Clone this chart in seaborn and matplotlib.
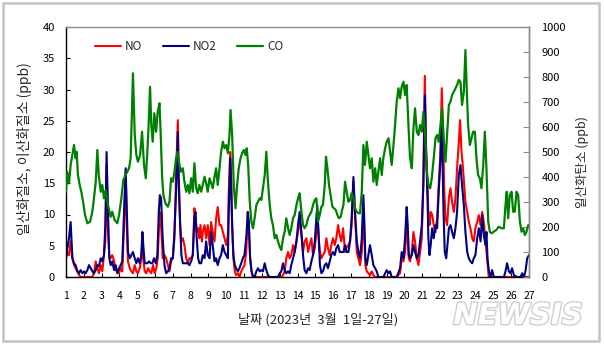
import matplotlib
matplotlib.use("Agg")
import matplotlib.pyplot as plt
import matplotlib.patheffects as pe
from matplotlib.patches import Rectangle
import seaborn as sns
import pandas as pd

sns.set_style("white")
plt.rcParams["font.family"] = ["Noto Sans CJK KR", "DejaVu Sans"]
plt.rcParams["axes.unicode_minus"] = False

# ---------------- data ----------------
series_labels = ["NO", "NO2", "CO"]
day_ticks = list(range(1, 28))
left_ticks = list(range(0, 41, 5))
right_ticks = list(range(0, 1001, 100))
x_label = "날짜 (2023년  3월  1일-27일)"
left_label = "일산화질소, 이산화질소 (ppb)"
right_label = "일산화탄소 (ppb)"

# NO (ppb): (day, value)
no_pts = [
    (1.00, 3.0), (1.07, 4.0), (1.17, 3.5), (1.26, 5.7), (1.36, 3.0), (1.45, 1.9), (1.54, 1.4),
    (1.64, 0.9), (1.73, 0.3), (1.82, 0.0), (2.48, 0.0), (2.57, 0.6), (2.67, 2.5), (2.76, 1.4),
    (2.85, 0.6), (2.95, 1.9), (3.04, 0.9), (3.13, 3.5), (3.21, 5.7), (3.28, 17.9), (3.36, 7.2),
    (3.43, 3.5), (3.51, 3.0), (3.60, 3.5), (3.70, 2.5), (3.79, 1.1), (3.88, 0.9), (3.98, 0.6),
    (4.07, 1.4), (4.16, 0.9), (4.26, 8.3), (4.35, 16.8), (4.41, 8.3), (4.48, 2.5), (4.58, 1.4),
    (4.67, 0.9), (4.76, 0.6), (4.86, 1.9), (4.95, 0.9), (5.04, 0.6), (5.14, 1.4), (5.23, 3.0),
    (5.29, 5.7), (5.34, 3.0), (5.42, 0.9), (5.51, 0.6), (5.61, 1.4), (5.70, 0.9), (5.79, 0.6),
    (5.89, 1.9), (5.98, 0.6), (6.07, 1.4), (6.15, 3.0), (6.21, 7.2), (6.27, 10.4), (6.34, 8.3),
    (6.43, 3.0), (6.53, 3.5), (6.62, 3.0), (6.72, 1.9), (6.81, 0.9), (6.90, 2.5), (7.00, 3.0),
    (7.09, 6.2), (7.18, 16.3), (7.28, 25.1), (7.33, 16.8), (7.41, 8.3), (7.48, 5.7), (7.56, 6.2),
    (7.65, 5.1), (7.75, 3.0), (7.84, 2.2), (7.93, 3.0), (8.03, 3.0), (8.12, 3.5), (8.21, 11.0),
    (8.27, 9.9), (8.34, 7.2), (8.42, 7.8), (8.49, 6.2), (8.55, 8.3), (8.63, 5.7), (8.68, 7.2),
    (8.78, 8.3), (8.87, 6.2), (8.96, 8.3), (9.06, 5.1), (9.15, 8.8), (9.24, 7.2), (9.34, 5.7),
    (9.43, 9.4), (9.52, 11.2), (9.62, 8.3), (9.71, 8.3), (9.81, 7.2), (9.90, 6.2), (10.00, 5.1),
    (10.09, 6.7), (10.14, 13.6), (10.22, 20.0), (10.27, 16.3), (10.33, 8.3), (10.40, 3.0),
    (10.48, 0.9), (10.55, 0.3), (10.65, 0.6), (10.74, 0.0), (10.84, 0.9), (10.93, 1.4),
    (11.02, 1.9), (11.12, 4.0), (11.21, 10.4), (11.27, 7.2), (11.34, 3.0), (11.42, 0.9),
    (11.50, 0.0), (13.09, 0.0), (13.19, 0.3), (13.28, 0.9), (13.37, 3.0), (13.47, 4.0),
    (13.56, 3.0), (13.65, 3.5), (13.75, 5.1), (13.84, 4.0), (13.94, 5.7), (14.03, 7.2),
    (14.12, 9.4), (14.22, 6.7), (14.31, 4.0), (14.40, 5.7), (14.50, 6.2), (14.59, 4.0),
    (14.68, 5.1), (14.78, 6.2), (14.87, 3.5), (14.97, 4.6), (15.06, 7.2), (15.11, 10.4),
    (15.19, 6.2), (15.26, 4.0), (15.34, 3.0), (15.43, 3.5), (15.53, 4.0), (15.62, 6.2),
    (15.71, 4.6), (15.81, 3.5), (15.90, 5.1), (15.99, 6.2), (16.09, 5.1), (16.18, 6.2),
    (16.28, 8.3), (16.37, 6.7), (16.46, 5.7), (16.56, 7.8), (16.67, 4.0), (16.76, 4.8),
    (16.86, 5.1), (16.95, 5.7), (17.04, 8.3), (17.14, 15.2), (17.23, 9.9), (17.33, 4.0),
    (17.42, 3.0), (17.51, 1.9), (17.61, 4.0), (17.70, 10.4), (17.76, 6.2), (17.81, 1.9),
    (17.89, 0.9), (17.98, 0.6), (18.07, 0.3), (18.17, 0.9), (18.26, 0.3), (18.36, 0.0),
    (19.57, 0.0), (19.76, 0.6), (19.85, 3.0), (19.95, 2.5), (20.04, 4.0), (20.13, 8.3),
    (20.19, 6.2), (20.25, 3.0), (20.32, 2.5), (20.42, 4.0), (20.51, 7.2), (20.60, 5.7),
    (20.70, 3.0), (20.79, 1.9), (20.88, 4.0), (20.98, 6.2), (21.07, 16.3), (21.15, 32.2),
    (21.22, 20.8), (21.30, 14.9), (21.35, 9.9), (21.41, 8.3), (21.48, 10.4), (21.56, 10.0),
    (21.65, 8.3), (21.75, 7.2), (21.84, 9.4), (21.93, 14.7), (22.03, 20.0), (22.10, 30.2),
    (22.18, 22.4), (22.23, 14.7), (22.31, 9.4), (22.40, 8.3), (22.50, 12.6), (22.59, 14.2),
    (22.68, 12.0), (22.78, 10.4), (22.87, 12.6), (22.96, 17.4), (23.06, 21.6), (23.13, 25.1),
    (23.21, 20.0), (23.28, 17.9), (23.36, 14.7), (23.43, 12.0), (23.53, 10.4), (23.62, 8.8),
    (23.71, 7.8), (23.81, 6.2), (23.90, 5.7), (23.99, 7.8), (24.09, 8.8), (24.18, 9.9),
    (24.28, 8.3), (24.37, 10.4), (24.46, 8.8), (24.56, 5.7), (24.65, 3.0), (24.74, 0.0),
    (27.00, 0.0),
]

# NO2 (ppb): (day, value)
no2_pts = [
    (1.00, 3.0), (1.07, 4.6), (1.17, 6.2), (1.26, 8.8), (1.36, 3.0), (1.45, 2.2), (1.54, 1.9),
    (1.64, 0.9), (1.73, 0.6), (1.82, 1.1), (1.92, 0.6), (2.01, 0.9), (2.10, 0.6), (2.20, 1.1),
    (2.29, 1.9), (2.39, 1.4), (2.48, 0.9), (2.57, 0.6), (2.67, 1.1), (2.76, 1.9), (2.85, 1.7),
    (2.95, 3.0), (3.04, 2.5), (3.13, 3.5), (3.21, 8.3), (3.28, 20.0), (3.36, 10.4), (3.43, 3.0),
    (3.51, 1.9), (3.60, 2.5), (3.70, 1.1), (3.79, 1.9), (3.88, 0.6), (3.98, 1.4), (4.07, 1.9),
    (4.16, 2.5), (4.26, 10.4), (4.35, 17.4), (4.41, 11.0), (4.48, 4.0), (4.58, 3.0), (4.67, 3.5),
    (4.76, 4.0), (4.86, 3.0), (4.95, 2.2), (5.04, 3.0), (5.14, 2.2), (5.23, 3.5), (5.29, 7.2),
    (5.34, 5.1), (5.42, 2.2), (5.57, 2.2), (5.66, 2.5), (5.76, 2.2), (5.85, 2.2), (5.94, 3.0),
    (6.04, 2.2), (6.13, 3.5), (6.21, 10.4), (6.27, 13.1), (6.34, 12.6), (6.43, 6.2), (6.53, 1.9),
    (6.62, 0.6), (6.72, 0.9), (6.81, 1.4), (6.90, 3.0), (7.00, 3.0), (7.09, 7.2), (7.18, 13.6),
    (7.28, 23.2), (7.33, 14.7), (7.41, 8.3), (7.48, 3.5), (7.56, 2.2), (7.65, 2.2), (7.75, 2.2),
    (7.84, 2.2), (7.93, 1.9), (8.03, 2.5), (8.12, 3.5), (8.21, 9.4), (8.27, 10.4), (8.34, 6.2),
    (8.42, 3.0), (8.49, 2.2), (8.59, 2.2), (8.68, 3.5), (8.78, 3.0), (8.87, 5.7), (8.96, 3.5),
    (9.06, 3.0), (9.15, 7.2), (9.24, 5.1), (9.34, 2.5), (9.43, 3.0), (9.52, 1.9), (9.62, 3.0),
    (9.71, 3.5), (9.81, 5.1), (9.90, 4.0), (10.00, 3.5), (10.09, 3.0), (10.14, 10.4),
    (10.22, 19.0), (10.27, 15.2), (10.33, 8.3), (10.40, 3.5), (10.48, 1.9), (10.55, 1.4),
    (10.65, 0.9), (10.74, 1.4), (10.84, 2.2), (10.93, 3.0), (11.02, 3.5), (11.12, 6.2),
    (11.21, 10.4), (11.27, 8.8), (11.34, 3.0), (11.42, 0.9), (11.50, 0.0), (11.59, 0.0),
    (11.69, 0.9), (11.78, 1.4), (11.88, 0.9), (11.97, 1.1), (12.06, 0.9), (12.16, 2.2),
    (12.25, 1.1), (12.34, 0.3), (12.44, 0.0), (12.91, 0.0), (13.00, 0.6), (13.09, 0.9),
    (13.19, 2.2), (13.28, 1.1), (13.37, 0.6), (13.47, 0.9), (13.56, 0.6), (13.65, 1.9),
    (13.75, 3.0), (13.84, 4.0), (13.94, 5.7), (14.03, 8.3), (14.12, 10.4), (14.22, 7.2),
    (14.31, 3.5), (14.40, 1.1), (14.50, 0.6), (14.59, 1.4), (14.68, 1.1), (14.78, 2.5),
    (14.87, 3.5), (14.97, 5.7), (15.06, 9.4), (15.11, 11.5), (15.19, 6.2), (15.26, 1.9),
    (15.34, 0.6), (15.43, 0.9), (15.53, 1.9), (15.62, 2.2), (15.71, 1.4), (15.81, 2.5),
    (15.90, 3.5), (15.99, 4.0), (16.09, 3.5), (16.18, 4.6), (16.28, 5.1), (16.37, 4.0),
    (16.48, 4.0), (16.58, 4.0), (16.67, 5.1), (16.76, 4.0), (16.86, 4.0), (16.95, 5.7),
    (17.04, 9.4), (17.14, 16.0), (17.23, 10.4), (17.33, 5.7), (17.42, 4.0), (17.51, 3.0),
    (17.61, 6.2), (17.70, 13.1), (17.76, 8.3), (17.81, 3.0), (17.89, 1.9), (17.98, 3.5),
    (18.07, 5.1), (18.17, 3.5), (18.26, 1.9), (18.36, 1.4), (18.45, 0.9), (18.54, 0.0),
    (18.82, 0.0), (19.01, 1.1), (19.11, 0.6), (19.20, 0.9), (19.29, 0.0), (19.57, 0.0),
    (19.76, 1.4), (19.85, 4.0), (19.95, 3.0), (20.04, 6.2), (20.13, 11.2), (20.19, 8.3),
    (20.25, 3.5), (20.32, 3.0), (20.42, 3.5), (20.51, 5.1), (20.60, 4.0), (20.70, 3.0),
    (20.79, 3.5), (20.88, 5.7), (20.98, 8.3), (21.07, 14.7), (21.15, 29.1), (21.22, 20.0),
    (21.30, 12.6), (21.35, 6.2), (21.41, 3.5), (21.48, 5.1), (21.56, 7.8), (21.65, 6.2),
    (21.75, 8.3), (21.84, 7.8), (21.93, 13.6), (22.03, 19.0), (22.08, 24.8), (22.14, 19.0),
    (22.20, 10.4), (22.27, 4.0), (22.35, 3.0), (22.42, 5.1), (22.50, 7.8), (22.59, 8.3),
    (22.68, 7.2), (22.78, 6.2), (22.87, 7.8), (22.96, 10.4), (23.06, 16.3), (23.15, 17.9),
    (23.24, 14.7), (23.34, 11.5), (23.43, 7.2), (23.53, 4.0), (23.62, 3.0), (23.71, 2.5),
    (23.81, 2.2), (23.90, 3.0), (23.99, 3.5), (24.09, 6.2), (24.18, 7.8), (24.28, 5.7),
    (24.37, 9.9), (24.46, 6.7), (24.56, 5.1), (24.61, 7.2), (24.67, 3.0), (24.74, 1.1),
    (24.84, 0.0), (24.93, 1.1), (25.02, 0.0), (25.59, 0.0), (25.68, 0.9), (25.77, 2.2),
    (25.87, 0.9), (25.96, 0.6), (26.05, 1.4), (26.15, 0.3), (26.33, 0.0), (26.52, 0.0),
    (26.62, 0.6), (26.71, 0.0), (26.80, 0.9), (26.90, 3.0), (27.00, 3.5),
]

# CO (ppb): (day, value)
co_pts = [
    (1.00, 341), (1.07, 421), (1.17, 375), (1.26, 448), (1.45, 528), (1.54, 475), (1.60, 501),
    (1.67, 408), (1.77, 368), (1.86, 341), (1.96, 301), (2.07, 248), (2.20, 215), (2.35, 221),
    (2.48, 261), (2.57, 315), (2.67, 381), (2.76, 508), (2.84, 408), (2.95, 341), (3.04, 368),
    (3.13, 315), (3.23, 348), (3.32, 301), (3.42, 268), (3.51, 241), (3.60, 261), (3.73, 228),
    (3.88, 215), (3.98, 248), (4.11, 315), (4.22, 388), (4.35, 408), (4.54, 435), (4.63, 475),
    (4.76, 815), (4.86, 568), (4.95, 488), (5.04, 461), (5.16, 488), (5.27, 581), (5.38, 448),
    (5.48, 395), (5.57, 501), (5.64, 608), (5.72, 761), (5.79, 608), (5.87, 541), (5.96, 655),
    (6.06, 581), (6.15, 661), (6.25, 695), (6.32, 568), (6.40, 395), (6.47, 328), (6.58, 295),
    (6.72, 281), (6.81, 301), (6.90, 395), (7.00, 381), (7.09, 421), (7.18, 475), (7.26, 501),
    (7.37, 448), (7.46, 421), (7.56, 435), (7.65, 381), (7.75, 341), (7.84, 368), (7.93, 335),
    (8.03, 395), (8.12, 341), (8.21, 455), (8.31, 355), (8.40, 335), (8.49, 368), (8.59, 341),
    (8.68, 368), (8.78, 401), (8.87, 375), (8.96, 341), (9.06, 395), (9.15, 375), (9.24, 355),
    (9.34, 401), (9.43, 435), (9.52, 368), (9.62, 435), (9.71, 501), (9.81, 541), (9.90, 515),
    (10.00, 528), (10.09, 495), (10.18, 568), (10.24, 668), (10.33, 568), (10.42, 368),
    (10.52, 275), (10.61, 368), (10.70, 435), (10.80, 475), (10.89, 495), (10.98, 508),
    (11.08, 488), (11.15, 515), (11.23, 448), (11.32, 300), (11.41, 221), (11.50, 195),
    (11.59, 235), (11.69, 288), (11.78, 301), (11.88, 315), (11.97, 308), (12.06, 355),
    (12.16, 408), (12.25, 501), (12.34, 381), (12.44, 288), (12.53, 235), (12.62, 208),
    (12.72, 155), (12.81, 168), (12.91, 141), (13.00, 121), (13.09, 108), (13.19, 155),
    (13.28, 181), (13.37, 235), (13.47, 195), (13.56, 168), (13.65, 195), (13.75, 235),
    (13.84, 248), (13.94, 288), (14.03, 315), (14.12, 335), (14.22, 261), (14.31, 208),
    (14.40, 195), (14.50, 208), (14.59, 235), (14.68, 248), (14.78, 261), (14.87, 288),
    (14.97, 308), (15.06, 315), (15.15, 221), (15.25, 248), (15.34, 281), (15.43, 288),
    (15.53, 368), (15.60, 481), (15.68, 435), (15.77, 368), (15.86, 328), (15.96, 281),
    (16.05, 275), (16.15, 268), (16.24, 248), (16.33, 235), (16.43, 241), (16.48, 261),
    (16.58, 288), (16.67, 381), (16.76, 341), (16.86, 301), (16.95, 308), (17.04, 335),
    (17.14, 315), (17.23, 275), (17.33, 261), (17.42, 255), (17.51, 255), (17.61, 341),
    (17.70, 528), (17.79, 448), (17.89, 541), (17.98, 488), (18.07, 435), (18.17, 475),
    (18.26, 381), (18.36, 435), (18.45, 368), (18.54, 421), (18.64, 475), (18.73, 408),
    (18.82, 475), (18.92, 515), (19.01, 541), (19.11, 555), (19.20, 501), (19.29, 448),
    (19.39, 528), (19.48, 608), (19.57, 701), (19.67, 755), (19.76, 715), (19.85, 761),
    (19.95, 781), (20.04, 728), (20.13, 768), (20.23, 608), (20.32, 475), (20.42, 435),
    (20.51, 595), (20.60, 675), (20.70, 581), (20.79, 568), (20.88, 608), (20.98, 581),
    (21.07, 661), (21.16, 581), (21.26, 421), (21.35, 368), (21.45, 355), (21.54, 395),
    (21.65, 475), (21.75, 555), (21.84, 568), (21.93, 541), (22.03, 608), (22.12, 675),
    (22.22, 541), (22.31, 461), (22.40, 568), (22.50, 688), (22.59, 701), (22.68, 728),
    (22.78, 741), (22.87, 755), (22.96, 768), (23.06, 788), (23.15, 781), (23.24, 688),
    (23.34, 741), (23.43, 908), (23.51, 741), (23.58, 608), (23.68, 528), (23.77, 555),
    (23.86, 581), (23.96, 581), (24.05, 475), (24.14, 408), (24.24, 395), (24.33, 355),
    (24.43, 448), (24.52, 581), (24.61, 435), (24.71, 221), (24.80, 181), (24.89, 175),
    (25.02, 181), (25.16, 188), (25.30, 201), (25.45, 195), (25.59, 195), (25.68, 288),
    (25.75, 341), (25.83, 235), (25.92, 328), (26.02, 341), (26.11, 261), (26.20, 261),
    (26.30, 341), (26.39, 328), (26.49, 221), (26.58, 181), (26.67, 195), (26.77, 168),
    (26.86, 181), (26.96, 208),
]

colors = {"NO": "#ff0000", "NO2": "#000080", "CO": "#008000"}

df_no = pd.DataFrame(no_pts, columns=["day", "ppb"])
df_no2 = pd.DataFrame(no2_pts, columns=["day", "ppb"])
df_co = pd.DataFrame(co_pts, columns=["day", "ppb"])

W, H = 604, 345
fig = plt.figure(figsize=(W / 100, H / 100), dpi=100)
ax = fig.add_axes([66 / W, 1 - 277 / H, 463 / W, 250 / H])
ax2 = ax.twinx()

sns.lineplot(data=df_no, x="day", y="ppb", ax=ax, color=colors["NO"], linewidth=1.5,
             estimator=None, sort=False, label=series_labels[0], legend=False)
sns.lineplot(data=df_no2, x="day", y="ppb", ax=ax, color=colors["NO2"], linewidth=1.5,
             estimator=None, sort=False, label=series_labels[1], legend=False)
sns.lineplot(data=df_co, x="day", y="ppb", ax=ax2, color=colors["CO"], linewidth=1.6,
             estimator=None, sort=False, label=series_labels[2], legend=False)

ax.set_xlim(1, 27)
ax.set_ylim(0, 40)
ax2.set_ylim(0, 1000)
ax.set_xticks(day_ticks)
ax.set_yticks(left_ticks)
ax2.set_yticks(right_ticks)
ax.set_xlabel("")
ax.set_ylabel("")
ax2.set_ylabel("")

gray = "#8c8c8c"
for s in ["left", "bottom"]:
    ax.spines[s].set_color("black")
    ax.spines[s].set_linewidth(1.0)
for s in ["top", "right"]:
    ax.spines[s].set_color(gray)
    ax.spines[s].set_linewidth(1.0)
for s in ["left", "bottom", "top"]:
    ax2.spines[s].set_visible(False)
ax2.spines["right"].set_color(gray)
ax2.spines["right"].set_linewidth(1.0)

ax.tick_params(axis="x", direction="in", length=3, pad=10, labelsize=7.5,
               bottom=True, top=False, color="black", labelcolor="black")
ax.tick_params(axis="y", direction="in", length=3, pad=8, labelsize=8,
               left=True, right=False, color="black", labelcolor="black")
ax2.tick_params(axis="y", direction="in", length=4, pad=9, labelsize=8,
                right=True, left=False, color=gray, labelcolor="black")

h1, l1 = ax.get_legend_handles_labels()
h2, l2 = ax2.get_legend_handles_labels()
ax2.legend(h1 + h2, l1 + l2, loc="upper left", bbox_to_anchor=(0.052, 0.965), ncol=3,
           frameon=False, fontsize=8.5, handlelength=2.2, handletextpad=0.3,
           columnspacing=1.8, borderaxespad=0)

fig.text(25 / W, 1 - 149 / H, left_label, rotation=90, ha="center", va="center", fontsize=10)
fig.text(582 / W, 1 - 162 / H, right_label, rotation=90, ha="center", va="center", fontsize=9)
fig.text(318 / W, 1 - 320 / H, x_label, ha="center", va="center", fontsize=9.5)

fig.text(518 / W, 1 - 316 / H, "NEWSIS", fontsize=21, fontweight="bold", fontstyle="italic",
         family="DejaVu Sans", color="white", ha="center", va="center",
         path_effects=[pe.withStroke(linewidth=2, foreground="#cfcfcf")])

fig.patches.append(Rectangle((3 / W, 1 - 341 / H), 596 / W, 338 / H, transform=fig.transFigure,
                             fill=False, edgecolor="#c4c4c4", linewidth=1.8))

fig.savefig("out.png", dpi=100)
